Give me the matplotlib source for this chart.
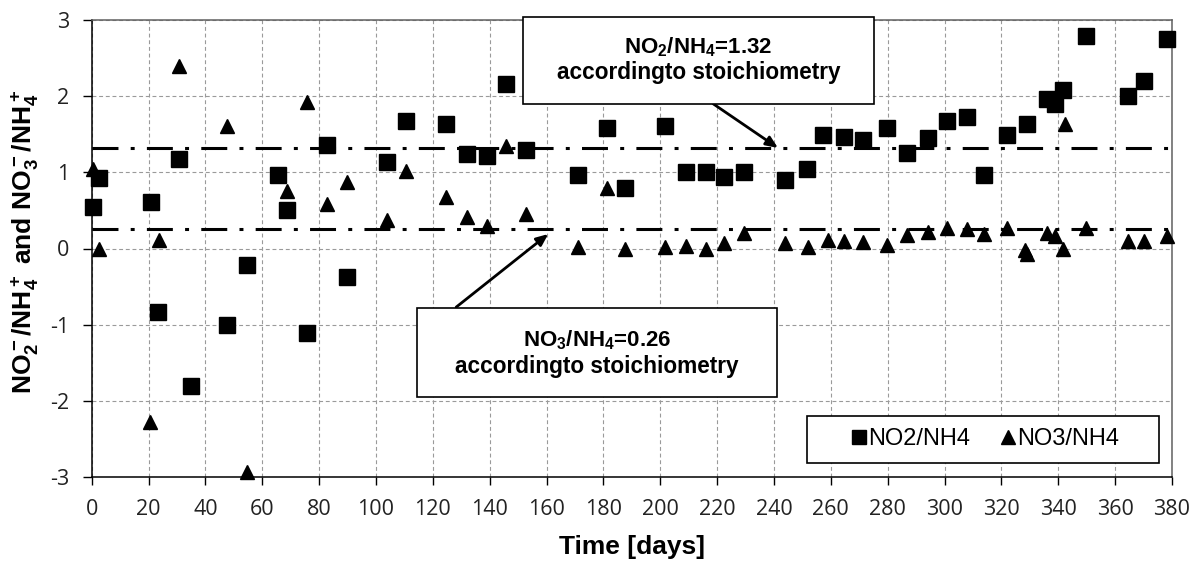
#!/usr/bin/env python3

import matplotlib
matplotlib.use("Agg")
import matplotlib.pyplot as plt
from matplotlib.patches import Rectangle

# NO2/NH4 ratio (squares)
no2_days = [0.6, 2.6, 20.7, 23.4, 30.7, 34.8, 47.7, 54.7, 65.6, 68.8, 75.6, 82.6,
            89.7, 104, 110.5, 124.6, 131.9, 138.9, 145.6, 152.6, 171, 181.1, 187.6,
            201.7, 208.9, 216, 222.5, 229.5, 243.9, 251.7, 257.3, 264.6, 271.4,
            279.6, 286.7, 294, 301, 308, 313.9, 321.8, 328.9, 335.9, 338.9, 341.7,
            349.8, 364.6, 370.1, 378.1]
no2_ratio = [0.55, 0.92, 0.61, -0.84, 1.18, -1.81, -1.01, -0.22, 0.96, 0.51, -1.11, 1.36,
             -0.37, 1.14, 1.68, 1.64, 1.24, 1.21, 2.16, 1.29, 0.97, 1.58, 0.80,
             1.61, 1.01, 1.01, 0.94, 1.00, 0.90, 1.05, 1.49, 1.47, 1.43,
             1.58, 1.26, 1.45, 1.67, 1.72, 0.97, 1.49, 1.64, 1.96, 1.90, 2.08,
             2.79, 2.00, 2.20, 2.75]

# NO3/NH4 ratio (triangles)
no3_days = [0.6, 2.6, 20.5, 23.7, 30.7, 47.7, 54.5, 68.8, 75.6, 82.6, 89.7, 103.8,
            110.5, 124.6, 131.9, 138.9, 145.6, 152.6, 171, 181.1, 187.6, 201.7, 208.9,
            216, 222.5, 229.5, 243.9, 252, 259, 264.6, 271.4, 279.6, 286.9, 294, 301,
            308, 313.9, 321.8, 328.3, 328.9, 335.9, 338.9, 341.7, 342.2, 349.8, 364.6,
            370.1, 378.1]
no3_ratio = [1.05, 0.00, -2.28, 0.11, 2.40, 1.61, -2.93, 0.76, 1.92, 0.58, 0.87, 0.37,
             1.02, 0.68, 0.42, 0.29, 1.35, 0.45, 0.02, 0.80, 0.00, 0.02, 0.03,
             0.00, 0.07, 0.20, 0.07, 0.02, 0.11, 0.10, 0.09, 0.05, 0.18, 0.22, 0.27,
             0.25, 0.19, 0.27, -0.02, -0.07, 0.20, 0.17, -0.01, 1.63, 0.27, 0.10,
             0.10, 0.16]

# stoichiometric ratios
no2_stoich = 1.32
no3_stoich = 0.26

x_ticks = list(range(0, 381, 20))
y_ticks = [-3, -2, -1, 0, 1, 2, 3]

W, H = 1197, 562


def fig_box(fig, x0, y0, x1, y1):
    # rectangle in pixel coords (top-left origin)
    r = Rectangle((x0 / W, 1 - y1 / H), (x1 - x0) / W, (y1 - y0) / H,
                  transform=fig.transFigure, facecolor='white', edgecolor='black',
                  linewidth=1.2, zorder=10)
    fig.patches.append(r)


def main():
    plt.rcParams['mathtext.default'] = 'regular'
    plt.rcParams['axes.unicode_minus'] = False

    fig = plt.figure(figsize=(W / 100, H / 100), dpi=100)
    ax = fig.add_axes([91.7 / W, 1 - 477 / H, (1172 - 91.7) / W, 457 / H])

    ax.plot(no2_days, no2_ratio, linestyle='none', marker='s', markersize=11,
            color='black', clip_on=False, zorder=5, label='NO2/NH4')
    ax.plot(no3_days, no3_ratio, linestyle='none', marker='^', markersize=10,
            color='black', clip_on=False, zorder=5, label='NO3/NH4')

    for val in (no2_stoich, no3_stoich):
        ax.axhline(val, color='black', linewidth=2.2, dashes=(8.5, 4, 1.3, 4), zorder=4)

    ax.set_xlim(0, 380)
    ax.set_ylim(-3, 3)
    ax.set_xticks(x_ticks)
    ax.set_yticks(y_ticks)
    ax.grid(True, color='#9a9a9a', linestyle=(0, (3.5, 2.5)), linewidth=0.8)
    ax.set_axisbelow(True)

    for lab in ax.get_xticklabels() + ax.get_yticklabels():
        lab.set_fontfamily('Open Sans')
        lab.set_fontsize(15.5)
        lab.set_color('#222222')
    ax.tick_params(axis='both', direction='out', length=6.2, width=1, pad=10)
    ax.tick_params(axis='x', length=5.8)

    ax.spines['left'].set_color('black')
    ax.spines['bottom'].set_color('black')
    ax.spines['top'].set_color('#606060')
    ax.spines['right'].set_color('#606060')
    for s in ax.spines.values():
        s.set_linewidth(1.1)

    ax.set_xlabel('Time [days]', family='Liberation Sans', fontweight='bold', fontsize=19)
    ax.xaxis.set_label_coords(0.5, -0.128)
    ax.set_ylabel('NO$_2^-$/NH$_4^+$ and NO$_3^-$/NH$_4^+$', family='Liberation Sans',
                  fontweight='bold', fontsize=19)
    ax.yaxis.set_label_coords(-0.047, 0.515)

    # arrows to the stoichiometric lines
    arrow = dict(arrowstyle='-|>,head_length=0.7,head_width=0.3', color='black',
                 linewidth=2, shrinkA=0, shrinkB=0)
    ax.annotate('', xy=(241.4, no2_stoich), xytext=(218.6, 1.90), arrowprops=arrow,
                annotation_clip=False, zorder=6)
    ax.annotate('', xy=(160.6, 0.19), xytext=(128.2, -0.77), arrowprops=arrow,
                annotation_clip=False, zorder=6)

    # text boxes
    fig_box(fig, 523, 17, 874, 104)
    fig.text(698.5 / W, 1 - 47 / H, 'NO$_2$/NH$_4$=1.32', ha='center', va='center',
             family='Liberation Sans', fontweight='bold', fontsize=16, zorder=11)
    fig.text(698.5 / W, 1 - 73 / H, 'accordingto stoichiometry', ha='center', va='center',
             family='Liberation Sans', fontweight='bold', fontsize=16.3, zorder=11)

    fig_box(fig, 416.7, 307.7, 777, 396.7)
    fig.text(597 / W, 1 - 340 / H, 'NO$_3$/NH$_4$=0.26', ha='center', va='center',
             family='Liberation Sans', fontweight='bold', fontsize=16, zorder=11)
    fig.text(597 / W, 1 - 366 / H, 'accordingto stoichiometry', ha='center', va='center',
             family='Liberation Sans', fontweight='bold', fontsize=16.3, zorder=11)

    # legend with a separate frame
    fig_box(fig, 806.7, 415.7, 1159, 462.7)
    leg = fig.legend(loc='center', bbox_to_anchor=(985.5 / W, 1 - 439 / H), ncol=2,
                     frameon=False, prop={'family': 'Liberation Sans', 'size': 17},
                     handlelength=0.6, handletextpad=0.1, columnspacing=1.3,
                     markerscale=0.95)
    leg.set_zorder(12)

    fig.savefig('out.png', dpi=100)


if __name__ == "__main__":
    main()
